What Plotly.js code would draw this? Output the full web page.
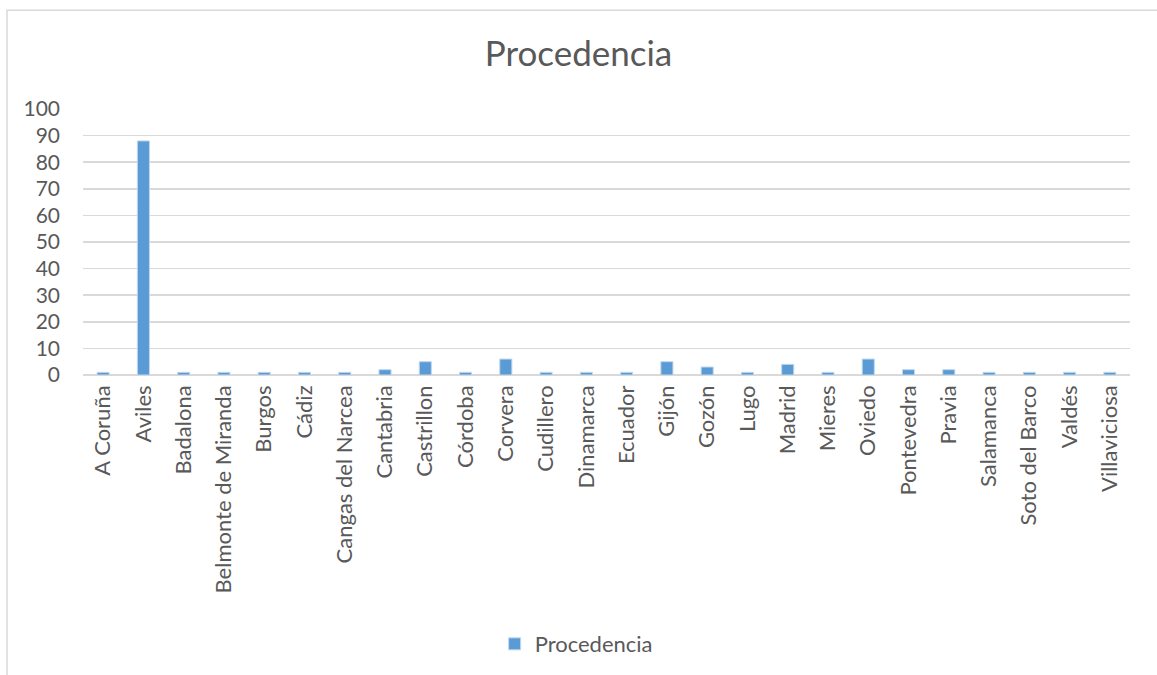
<!DOCTYPE html>
<html>
<head>
<meta charset="utf-8">
<script src="https://cdn.plot.ly/plotly-3.0.1.min.js"></script>
<style>html,body{margin:0;padding:0;background:#fff;}#chart{width:1157px;height:675px;}</style>
</head>
<body>
<div id="chart"></div>
<script>
var categories = ["A Coruña","Aviles","Badalona","Belmonte de Miranda","Burgos","Cádiz","Cangas del Narcea","Cantabria","Castrillon","Córdoba","Corvera","Cudillero","Dinamarca","Ecuador","Gijón","Gozón","Lugo","Madrid","Mieres","Oviedo","Pontevedra","Pravia","Salamanca","Soto del Barco","Valdés","Villaviciosa"];
var values = [1,88,1,1,1,1,1,2,5,1,6,1,1,1,5,3,1,4,1,6,2,2,1,1,1,1];
var yTicks = [0,10,20,30,40,50,60,70,80,90,100];
var seriesName = "Procedencia";

var font = "Lato, sans-serif";
var trace = {
  type: "bar",
  x: categories,
  y: values,
  name: seriesName,
  width: 0.3,
  marker: {color: "#5B9BD5", line: {color: "#BDD7EE", width: 1}},
  showlegend: true
};
var layout = {
  width: 1157, height: 675,
  margin: {l: 83, r: 27, t: 109, b: 299},
  paper_bgcolor: "#fff", plot_bgcolor: "#fff",
  font: {family: font, color: "#595959", size: 20},
  title: {text: "Procedencia", font: {family: font, size: 35, color: "#595959"}, x: 0.5, xanchor: "center", y: 0.921, yanchor: "middle"},
  xaxis: {type: "category", tickangle: -90, showgrid: false, zeroline: false, showline: false, ticks: "", ticklabelstandoff: 5, tickfont: {size: 22, family: font, color: "#595959"}, fixedrange: true},
  yaxis: {range: [0, 100], tickvals: yTicks, ticktext: yTicks.map(String), showgrid: true, gridcolor: "#D9D9D9", gridwidth: 1.5, zeroline: true, zerolinecolor: "#D9D9D9", zerolinewidth: 1.5, showline: false, ticks: "", ticklabelstandoff: 22, tickfont: {size: 21, family: font, color: "#595959"}, fixedrange: true},
  showlegend: true,
  legend: {orientation: "h", x: 0.471, xanchor: "center", y: -1.004, yanchor: "middle", itemwidth: 30, font: {size: 22, family: font, color: "#595959"}},
  bargap: 0.7,
  shapes: [{type: "rect", xref: "paper", yref: "paper", x0: -0.0726, x1: 1.04, y0: -1.2, y1: 1.3708, line: {color: "#D9D9D9", width: 1.5}, fillcolor: "rgba(0,0,0,0)", layer: "below"}]
};
Plotly.newPlot("chart", [trace], layout, {displayModeBar: false, staticPlot: true});
</script>
</body>
</html>
